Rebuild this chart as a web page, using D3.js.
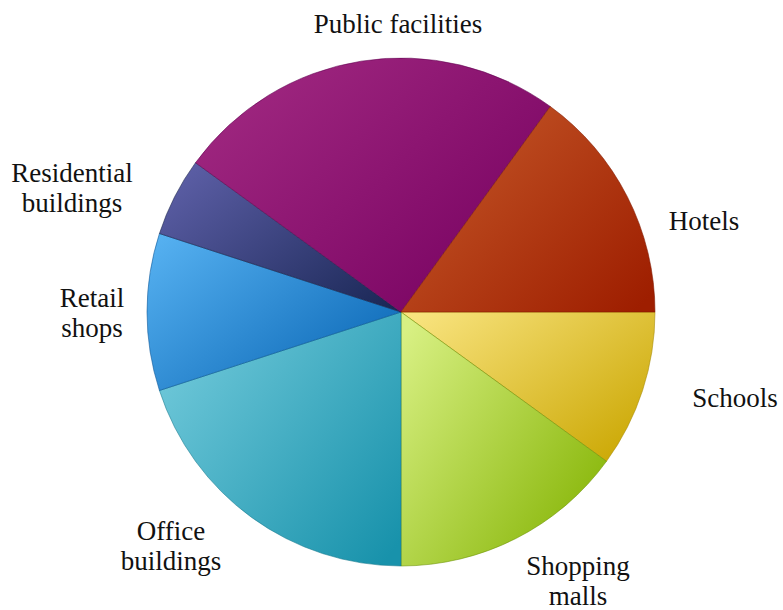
<!DOCTYPE html>
<html>
<head>
<meta charset="utf-8">
<script src="https://cdn.jsdelivr.net/npm/d3@7"></script>
<style>
  html, body { margin: 0; padding: 0; background: #ffffff; }
  svg { display: block; }
  .label { font-family: "Liberation Serif", "Times New Roman", serif; font-size: 27px; fill: #111; }
</style>
</head>
<body>
<svg id="chart" width="783" height="610"></svg>
<script>
// Share of each building type (percent), clockwise from 3 o'clock
const categories = ["Schools", "Shopping malls", "Office buildings", "Retail shops",
                    "Residential buildings", "Public facilities", "Hotels"];
const shares = [10, 15, 20, 10, 5, 25, 15];

// Label text split into lines
const labelLines = [["Schools"], ["Shopping", "malls"], ["Office", "buildings"], ["Retail", "shops"],
                    ["Residential", "buildings"], ["Public facilities"], ["Hotels"]];

// Slice colours: light corner and dark corner of each gradient
const lightColors = ["#f8e37e", "#d8f083", "#74cbdc", "#55b0f0", "#5e60a8", "#a22a82", "#c65a2a"];
const darkColors  = ["#caa600", "#82b200", "#1892ab", "#0764b3", "#1b2857", "#760060", "#9e1e00"];

// Label anchor points (text centre x, first baseline y)
const labelAnchors = [[735, 407], [578, 575], [171, 540], [92, 307], [72, 182], [398, 33], [704, 230]];

const width = 783, height = 610;
const cx = 401, cy = 312, radius = 254;
const lineGap = 30;

const data = categories.map((c, i) => ({ name: c, value: shares[i], i }));

const svg = d3.select("#chart");
const defs = svg.append("defs");

data.forEach(d => {
  const g = defs.append("linearGradient")
    .attr("id", "grad" + d.i)
    .attr("x1", 0).attr("y1", 0.1)
    .attr("x2", 1).attr("y2", 0.9);
  g.append("stop").attr("offset", "0%").attr("stop-color", lightColors[d.i]);
  g.append("stop").attr("offset", "100%").attr("stop-color", darkColors[d.i]);
});

const pie = d3.pie()
  .value(d => d.value)
  .sort(null)
  .startAngle(Math.PI / 2)
  .endAngle(Math.PI / 2 + 2 * Math.PI);

const arc = d3.arc().innerRadius(0).outerRadius(radius);

const g = svg.append("g").attr("transform", `translate(${cx},${cy})`);

g.selectAll("path.slice")
  .data(pie(data))
  .join("path")
  .attr("class", "slice")
  .attr("d", arc)
  .attr("fill", d => `url(#grad${d.data.i})`)
  .attr("stroke", d => d3.color(darkColors[d.data.i]).darker(0.6))
  .attr("stroke-opacity", 0.55)
  .attr("stroke-width", 1);

// Category labels
const labels = svg.append("g");
data.forEach(d => {
  const [x, y] = labelAnchors[d.i];
  const t = labels.append("text")
    .attr("class", "label")
    .attr("text-anchor", "middle")
    .attr("x", x)
    .attr("y", y);
  labelLines[d.i].forEach((line, k) => {
    t.append("tspan")
      .attr("x", x)
      .attr("dy", k === 0 ? 0 : lineGap)
      .text(line);
  });
});
</script>
</body>
</html>
